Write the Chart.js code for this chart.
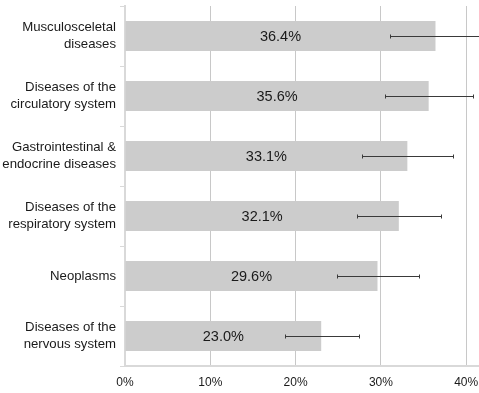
<!DOCTYPE html>
<html>
<head>
<meta charset="utf-8">
<script src="https://cdn.jsdelivr.net/npm/chart.js@4/dist/chart.umd.min.js"></script>
<style>
  html, body { margin: 0; padding: 0; background: #fff; }
  #wrap { width: 479px; height: 393px; position: relative; }
</style>
</head>
<body>
<div id="wrap"><canvas id="chart"></canvas></div>
<script>
// Chart data
const categories = [
    ['Musculosceletal', 'diseases'],
    ['Diseases of the', 'circulatory system'],
    ['Gastrointestinal &', 'endocrine diseases'],
    ['Diseases of the', 'respiratory system'],
    ['Neoplasms'],
    ['Diseases of the', 'nervous system'],
];
const values = [36.4, 35.6, 33.1, 32.1, 29.6, 23.0];
const errLow = [31.1, 30.5, 27.8, 27.2, 24.8, 18.7];
const errHigh = [41.7, 40.8, 38.5, 37.1, 34.5, 27.4];
const xTicks = [0, 10, 20, 30, 40];

const FONT = 'Arial, "Liberation Sans", sans-serif';

// Draws error whiskers and centred value labels using the chart scales
const barExtras = {
    id: 'barExtras',
    afterDatasetsDraw(chart) {
        const c = chart.ctx;
        const x = chart.scales.x;
        const meta = chart.getDatasetMeta(0);
        const area = chart.chartArea;
        c.save();
        c.beginPath();
        c.rect(area.left, area.top - 5, area.right - area.left, area.bottom - area.top + 10);
        c.clip();
        meta.data.forEach((bar, i) => {
            const y = Math.round(bar.y) + 0.5;
            const x0 = Math.round(x.getPixelForValue(errLow[i])) + 0.5;
            const x1 = Math.round(x.getPixelForValue(errHigh[i])) + 0.5;
            c.strokeStyle = '#3a3a3a';
            c.lineWidth = 1;
            c.beginPath();
            c.moveTo(x0, y); c.lineTo(x1, y);
            c.moveTo(x0, y - 2); c.lineTo(x0, y + 2);
            c.moveTo(x1, y - 2); c.lineTo(x1, y + 2);
            c.stroke();

            c.fillStyle = '#1a1a1a';
            c.font = '14.5px ' + FONT;
            c.textAlign = 'center';
            c.textBaseline = 'middle';
            c.fillText(values[i].toFixed(1) + '%', (bar.base + bar.x) / 2, bar.y + 1);
        });
        c.restore();
    },
};

new Chart(document.getElementById('chart'), {
    type: 'bar',
    data: {
        labels: categories,
        datasets: [{
            data: values,
            backgroundColor: '#cccccc',
            borderWidth: 0,
            barPercentage: 0.5,
            categoryPercentage: 1,
        }],
    },
    options: {
        indexAxis: 'y',
        responsive: true,
        maintainAspectRatio: false,
        animation: false,
        layout: { padding: { top: 6, right: 0, left: 0, bottom: 0 } },
        plugins: {
            legend: { display: false },
            tooltip: { enabled: false },
        },
        scales: {
            x: {
                min: 0,
                max: 41.5,
                afterBuildTicks(scale) {
                    scale.ticks = xTicks.map(v => ({ value: v }));
                },
                afterFit(scale) {
                    scale.height = 27;
                    scale.paddingLeft = 0;
                    scale.paddingRight = 0;
                },
                ticks: {
                    color: '#1a1a1a',
                    font: { family: FONT, size: 12 },
                    padding: 9,
                    callback: v => v + '%',
                },
                grid: {
                    color: ctx => ctx.tick && ctx.tick.value === 0 ? 'rgba(0,0,0,0)' : '#c8c8c8',
                    drawTicks: false,
                },
                border: { display: true, color: '#d9d9d9', width: 2 },
            },
            y: {
                afterFit(scale) {
                    scale.width = 125;
                    scale.paddingTop = 0;
                    scale.paddingBottom = 0;
                },
                ticks: {
                    color: '#1a1a1a',
                    font: { family: FONT, size: 13.2, lineHeight: 1.3 },
                    padding: 4,
                },
                grid: {
                    offset: true,
                    drawOnChartArea: false,
                    drawTicks: true,
                    tickLength: 5,
                    color: '#d9d9d9',
                },
                border: { display: true, color: '#d9d9d9', width: 2 },
            },
        },
    },
    plugins: [barExtras],
});
</script>
</body>
</html>
